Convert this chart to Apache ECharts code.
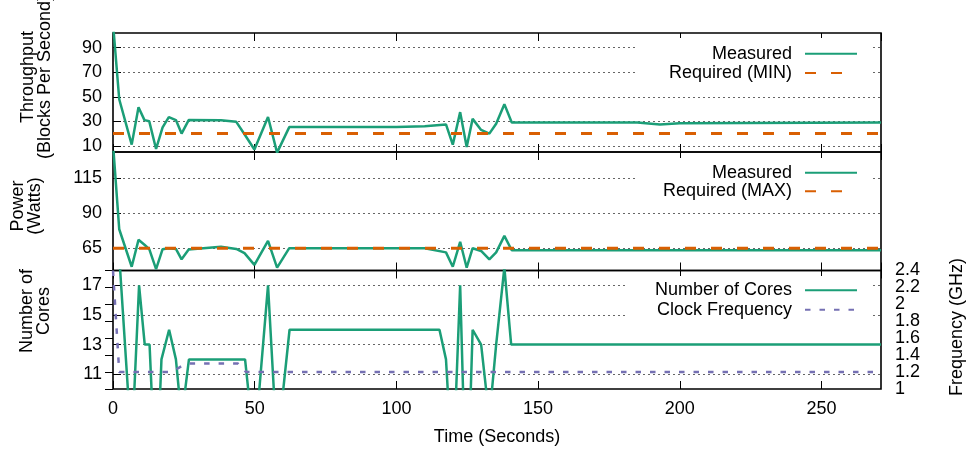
<!DOCTYPE html>
<html lang="en">
<head>
<meta charset="UTF-8">
<title>Throughput, power and cores over time</title>
<script src="https://cdn.jsdelivr.net/npm/echarts@6/dist/echarts.min.js"></script>
<style>
    html, body { margin: 0; padding: 0; background: #fff; }
    #container { width: 969px; height: 449px; }
</style>
</head>
<body>
<div id="container"></div>
<script type="text/javascript">
    // samples for throughput and power (seconds)
    var sampleTime = [0, 2.2, 6.6, 9.0, 11.1, 12.8, 15.2, 17.5, 19.7, 22.2,
        24.2, 26.7, 38.1, 43.5, 46.4, 49.9, 54.7, 57.9, 62.2, 100,
        110, 117.5, 119.9, 122.5, 124.8, 126.9, 129.9, 132.8, 135.2, 138.1,
        140.7, 185, 193, 200, 271];
    var throughput = [110, 48, 11, 41.5, 31, 30, 7.5, 25, 33.5, 31,
        20, 31, 30.8, 29.6, 19.5, 7, 33.5, 4.5, 25.3, 25.3,
        26, 27.5, 11, 37.5, 9, 32, 23, 20, 28, 44,
        29, 29, 27.5, 28.5, 29];
    var power = [140, 78.6, 51.7, 71, 67.5, 64.3, 50, 64.3, 65, 64.5,
        57, 64, 66, 64.5, 61.5, 53, 70.3, 51, 65, 65,
        65, 62, 51.7, 69.6, 51, 65, 63, 57, 62, 73.8,
        63.5, 63.5, 63.5, 63.5, 63.5];
    var requiredMin = 20;   // blocks per second
    var requiredMax = 65;   // watts

    // number of cores
    var coreTime = [0, 2.2, 6.6, 9.2, 11.2, 12.9, 15.2, 17.1, 19.8, 22.2,
        24.2, 26.8, 46.6, 49.9, 54.7, 57.9, 62.3, 115.2, 117.5, 119.9,
        122.5, 124.8, 126.9, 129.9, 132.8, 135.2, 138.1, 140.5, 271];
    var cores = [20, 19, 6, 17, 13, 13, 3, 12, 14, 12,
        8, 12, 12, 6, 17, 6, 14, 14, 12, 4,
        17, 1, 14, 13, 8, 13, 18.2, 13, 13];

    // clock frequency (GHz)
    var freqTime = [0, 2.2, 19.7, 22.2, 24.2, 26.4, 44.1, 47, 271];
    var frequency = [2.4, 1.2, 1.2, 1.23, 1.27, 1.3, 1.3, 1.2, 1.2];

    // ticks
    var timeMax = 271;
    var throughputTicks = [10, 30, 50, 70, 90];
    var powerTicks = [65, 90, 115];
    var coreTicks = [11, 13, 15, 17];
    var freqTicks = [1, 1.2, 1.4, 1.6, 1.8, 2, 2.2, 2.4];

    var GREEN = '#1b9e77', ORANGE = '#d95f02', PURPLE = '#7570b3';
    var FONT = "'Liberation Sans', Arial, sans-serif";
    var FS = 18;

    function pairs(xs, ys) {
        return xs.map(function (x, i) { return [x, ys[i]]; });
    }
    function flat(v) {
        return [[0, v], [timeMax, v]];
    }

    function timeAxis(grid, pos, labels) {
        return {
            type: 'value', gridIndex: grid, position: pos,
            min: 0, max: timeMax, interval: 50,
            axisLine: { show: false },
            axisTick: { show: true, inside: true, length: 8, lineStyle: { color: '#000', width: 1 } },
            axisLabel: { show: labels, fontSize: FS, color: '#000', fontFamily: FONT, margin: 11,
                showMaxLabel: false },
            splitLine: { show: false }
        };
    }
    function leftAxis(grid, min, max, ticks) {
        return {
            type: 'value', gridIndex: grid, min: min, max: max,
            axisLine: { show: false },
            axisTick: { show: true, inside: true, length: 8, customValues: ticks,
                lineStyle: { color: '#000', width: 1 } },
            axisLabel: { customValues: ticks, fontSize: FS, color: '#000', fontFamily: FONT, margin: 11 },
            splitLine: { show: true, lineStyle: { type: [2, 3], color: '#666', width: 1 } }
        };
    }
    // the frequency labels sit closer than one text line, so they are split over two axes
    function freqAxis(ticks, withTicks) {
        return {
            type: 'value', gridIndex: 2, position: 'right',
            min: 1, max: 2.4,
            axisLine: { show: false },
            axisTick: { show: withTicks, inside: true, length: 8, customValues: freqTicks,
                lineStyle: { color: '#000', width: 1 } },
            axisLabel: { customValues: ticks, fontSize: FS, color: '#000', fontFamily: FONT,
                margin: 14, showMinLabel: true, showMaxLabel: true },
            splitLine: { show: false }
        };
    }
    function legendItem(name, top) {
        return {
            data: [name], orient: 'vertical', align: 'right',
            right: 111, top: top, padding: 0, itemGap: 0,
            itemWidth: 52, itemHeight: 14, selectedMode: false,
            itemStyle: { opacity: 0 },
            textStyle: { fontSize: FS, color: '#000', fontFamily: FONT, padding: [0, 8, 0, 0] }
        };
    }
    function lineSeries(name, x, y, data, color, dash, width) {
        return {
            name: name, type: 'line', xAxisIndex: x, yAxisIndex: y,
            data: data, symbol: 'none', clip: true, animation: false,
            lineStyle: { color: color, width: width || 2.5, type: dash || 'solid' },
            itemStyle: { color: color }
        };
    }
    function keyBox(x, y, w, h) {
        return { type: 'rect', z: 1, shape: { x: x, y: y, width: w, height: h },
            style: { fill: '#fff' }, silent: true };
    }
    function title(text, x, y) {
        return { type: 'text', x: x, y: y, rotation: Math.PI / 2, z: 5,
            style: { text: text, font: FS + 'px ' + FONT, fill: '#000',
                align: 'center', verticalAlign: 'middle', lineHeight: 17 } };
    }

    var dom = document.getElementById('container');
    var myChart = echarts.init(dom, null, { renderer: 'canvas' });

    var border = { show: true, borderColor: '#000', borderWidth: 1.6, backgroundColor: 'transparent' };
    var option = {
        animation: false,
        grid: [
            Object.assign({ left: 113, right: 88, top: 33, height: 119 }, border),
            Object.assign({ left: 113, right: 88, top: 152, height: 118.5 }, border),
            Object.assign({ left: 113, right: 88, top: 270.5, height: 118.5 }, border)
        ],
        xAxis: [
            timeAxis(0, 'bottom', false), timeAxis(0, 'top', false),
            timeAxis(1, 'bottom', false), timeAxis(1, 'top', false),
            timeAxis(2, 'bottom', true), timeAxis(2, 'top', false)
        ],
        yAxis: [
            leftAxis(0, 5, 102, throughputTicks),
            leftAxis(1, 49, 134, powerTicks),
            leftAxis(2, 10, 18, coreTicks),
            freqAxis(freqTicks.filter(function (v, i) { return i % 2 === 0; }), true),
            freqAxis(freqTicks.filter(function (v, i) { return i % 2 === 1; }), false)
        ],
        legend: [
            legendItem('Measured', 44.7),
            legendItem('Required (MIN)', 64),
            legendItem('Measured', 163.7),
            legendItem('Required (MAX)', 182.3),
            legendItem('Number of Cores', 281.3),
            legendItem('Clock Frequency', 300.7)
        ],
        graphic: [
            keyBox(637, 38, 233, 45),
            keyBox(637, 158, 233, 45),
            keyBox(627, 276, 243, 45),
            title('Throughput\n(Blocks Per Second)', 36.5, 77),
            title('Power\n(Watts)', 27, 206),
            title('Number of\nCores', 36, 311),
            title('Frequency (GHz)', 957, 327),
            { type: 'text', x: 497, y: 437, z: 5,
              style: { text: 'Time (Seconds)', font: FS + 'px ' + FONT, fill: '#000',
                  align: 'center', verticalAlign: 'middle' } }
        ],
        series: [
            lineSeries('Measured', 0, 0, pairs(sampleTime, throughput), GREEN),
            lineSeries('Required (MIN)', 0, 0, flat(requiredMin), ORANGE, [11, 15], 3),
            lineSeries('Measured', 2, 1, pairs(sampleTime, power), GREEN),
            lineSeries('Required (MAX)', 2, 1, flat(requiredMax), ORANGE, [11, 15], 3),
            lineSeries('Number of Cores', 4, 2, pairs(coreTime, cores), GREEN),
            lineSeries('Clock Frequency', 4, 3, pairs(freqTime, frequency), PURPLE, [5.5, 9], 2.5)
        ]
    };
    myChart.setOption(option);
    window.addEventListener('resize', myChart.resize);
</script>
</body>
</html>
